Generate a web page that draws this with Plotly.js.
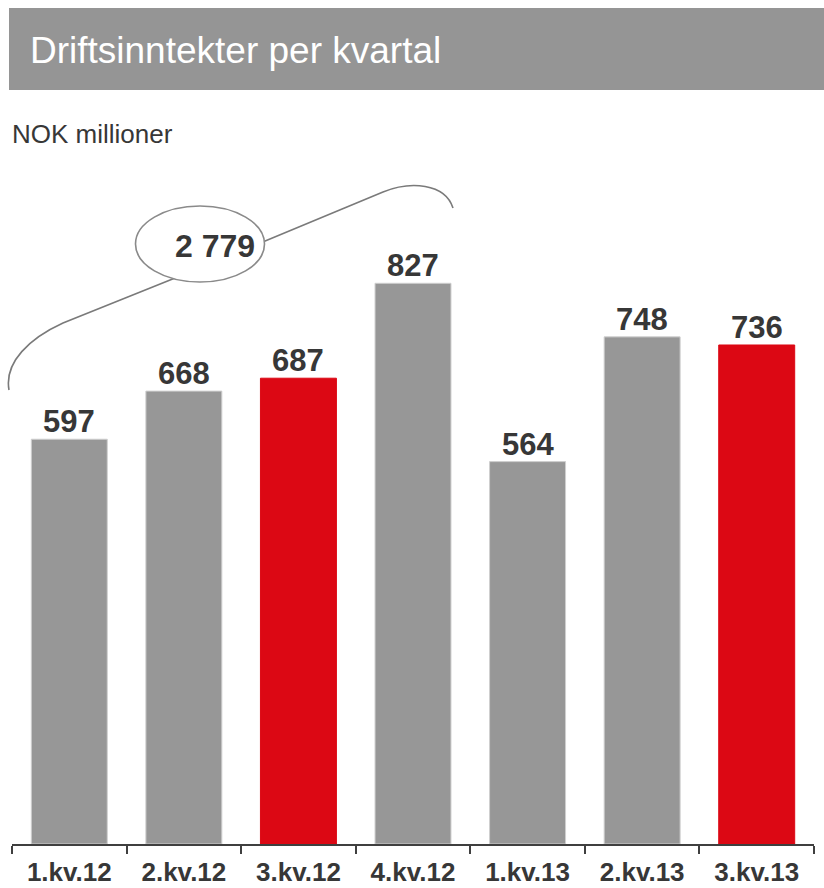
<!DOCTYPE html>
<html>
<head>
<meta charset="utf-8">
<script src="https://cdn.plot.ly/plotly-3.0.1.min.js"></script>
<style>html,body{margin:0;padding:0;background:#fff;}#chart{width:824px;height:888px;}</style>
</head>
<body>
<div id="chart"></div>
<script>
// ---- data ----
var categories = ["1.kv.12", "2.kv.12", "3.kv.12", "4.kv.12", "1.kv.13", "2.kv.13", "3.kv.13"];
var revenue = [597, 668, 687, 827, 564, 748, 736];
var highlight = [false, false, true, false, false, false, true];
var sum2012Label = "2 779";
var titleText = "Driftsinntekter per kvartal";
var unitText = "NOK millioner";

// ---- layout geometry ----
var W = 824, H = 888;
var mL = 12, mR = 10, mT = 166, mB = 44;
var plotW = W - mL - mR, plotH = H - mT - mB;
function px(x) { return (x - mL) / plotW; }
function py(y) { return (H - mB - y) / plotH; }
function pt(x, y) { return px(x) + "," + py(y); }

var FONT = "Liberation Sans, Arial, sans-serif";
var TXT = "#373737";
var GREY = "#979797";
var RED = "#DC0814";

var colors = highlight.map(function (h) { return h ? RED : GREY; });
var lineColors = highlight.map(function (h) { return h ? RED : "#cfcfcf"; });

var trace = {
  type: "bar",
  x: categories,
  y: revenue,
  marker: { color: colors, line: { color: lineColors, width: 1 } },
  hoverinfo: "none"
};

var valueAnnotations = categories.map(function (c, i) {
  return {
    xref: "x", yref: "y", x: c, y: revenue[i], xanchor: "center", yanchor: "bottom",
    yshift: -2, text: String(revenue[i]), showarrow: false,
    font: { family: FONT, size: 31, color: TXT, weight: "bold" }
  };
});

var bracePath = "M" + pt(9, 390) +
  " C" + pt(4, 362) + " " + pt(30, 338) + " " + pt(63, 323) +
  " L" + pt(200, 268) +
  " L" + pt(383, 192) +
  " C" + pt(410, 181) + " " + pt(445, 183) + " " + pt(453, 208);

var layout = {
  width: W, height: H,
  margin: { l: mL, r: mR, t: mT, b: mB, pad: 0 },
  paper_bgcolor: "#fff",
  plot_bgcolor: "#fff",
  showlegend: false,
  bargap: 0.337,
  font: { family: FONT, color: TXT },
  xaxis: {
    type: "category",
    showline: true, linecolor: "#3f3f3f", linewidth: 2,
    ticks: "outside", tickson: "boundaries", ticklen: 8, tickwidth: 2, tickcolor: "#3f3f3f",
    ticklabelstandoff: 4,
    tickfont: { family: FONT, size: 26, color: TXT, weight: "bold" },
    showgrid: false, zeroline: false, fixedrange: true
  },
  yaxis: {
    range: [0, 1000], visible: false, showgrid: false, zeroline: false, fixedrange: true
  },
  shapes: [
    { type: "rect", xref: "paper", yref: "paper", x0: px(9), x1: px(826), y0: py(8), y1: py(90),
      fillcolor: "#959595", line: { width: 0 }, layer: "above" },
    { type: "path", xref: "paper", yref: "paper", path: bracePath,
      line: { color: "#7a7a7a", width: 1.6 }, layer: "above" },
    { type: "circle", xref: "paper", yref: "paper", x0: px(135.5), x1: px(264.5), y0: py(206), y1: py(282),
      fillcolor: "#ffffff", line: { color: "#8a8a8a", width: 1.6 }, layer: "above" }
  ],
  annotations: [
    { xref: "paper", yref: "paper", x: px(28), y: py(50), xanchor: "left", yanchor: "middle",
      text: titleText, showarrow: false, font: { family: FONT, size: 37, color: "#ffffff" } },
    { xref: "paper", yref: "paper", x: px(10), y: py(134), xanchor: "left", yanchor: "middle",
      text: unitText, showarrow: false, font: { family: FONT, size: 26, color: TXT } },
    { xref: "paper", yref: "paper", x: px(215), y: py(246), xanchor: "center", yanchor: "middle",
      text: sum2012Label, showarrow: false, font: { family: FONT, size: 32, color: TXT, weight: "bold" } }
  ].concat(valueAnnotations)
};

Plotly.newPlot("chart", [trace], layout, { displayModeBar: false, staticPlot: true });
</script>
</body>
</html>
